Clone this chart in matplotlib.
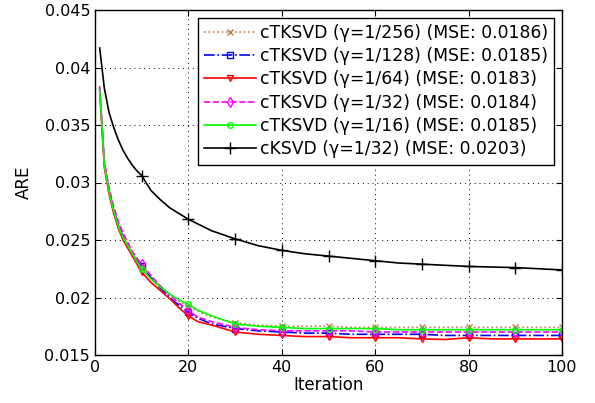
import matplotlib
matplotlib.use("Agg")
import matplotlib.pyplot as plt

plt.rcParams['font.family'] = ['DejaVu Sans']

it_low = [1, 2, 3, 4, 5, 6, 7, 8, 9, 10, 12, 14, 16, 18, 20, 22, 25, 30, 35, 40,
          45, 50, 55, 60, 65, 70, 75, 80, 85, 90, 95, 100]
it_k = [1, 2, 3, 4, 5, 6, 7, 8, 9, 10, 12, 14, 16, 18, 20, 25, 30, 35, 40, 45,
        50, 55, 60, 65, 70, 75, 80, 85, 90, 95, 100]

are_256 = [0.0384, 0.0318, 0.0294, 0.0277, 0.0264, 0.0254, 0.0246, 0.0239, 0.0233,
           0.0228, 0.0218, 0.0210, 0.0203, 0.0197, 0.0192, 0.0188, 0.0183, 0.0178,
           0.0176, 0.0175, 0.0175, 0.0175, 0.0174, 0.0174, 0.0174, 0.0174, 0.0174,
           0.0174, 0.0174, 0.0174, 0.0174, 0.0174]
are_128 = [0.0382, 0.0316, 0.0293, 0.0276, 0.0263, 0.0253, 0.0245, 0.0238, 0.0232,
           0.0227, 0.0217, 0.0208, 0.0200, 0.0193, 0.0187, 0.0182, 0.0177, 0.0173,
           0.0171, 0.0170, 0.0169, 0.0169, 0.0168, 0.0168, 0.0168, 0.0168, 0.0167,
           0.0167, 0.0167, 0.0167, 0.0167, 0.0167]
are_64 = [0.0380, 0.0313, 0.0290, 0.0273, 0.0260, 0.0250, 0.0243, 0.0236, 0.0229,
          0.0222, 0.0213, 0.0206, 0.0199, 0.0191, 0.0184, 0.0179, 0.0176, 0.0170,
          0.0168, 0.0167, 0.0166, 0.0166, 0.0165, 0.0165, 0.0165, 0.0164, 0.01635,
          0.0165, 0.0164, 0.0164, 0.0164, 0.0164]
are_32 = [0.0383, 0.0318, 0.0296, 0.0279, 0.0266, 0.0256, 0.0248, 0.0240, 0.0234,
          0.0229, 0.0219, 0.0210, 0.0202, 0.0195, 0.0189, 0.0183, 0.0179, 0.0174,
          0.0172, 0.0171, 0.0171, 0.0171, 0.0171, 0.0170, 0.0170, 0.0170, 0.0170,
          0.0170, 0.0170, 0.0170, 0.0170, 0.0170]
are_16 = [0.0381, 0.0315, 0.0292, 0.0275, 0.0262, 0.0252, 0.0245, 0.0238, 0.0231,
          0.0225, 0.0216, 0.0209, 0.0203, 0.0198, 0.0194, 0.0189, 0.0184, 0.0177,
          0.0175, 0.0174, 0.0173, 0.0173, 0.0173, 0.0173, 0.0172, 0.0172, 0.0172,
          0.0172, 0.0172, 0.0172, 0.0172, 0.0172]
are_ksvd = [0.0417, 0.0382, 0.0361, 0.0348, 0.0337, 0.0328, 0.0321, 0.0315, 0.0310,
            0.0306, 0.0293, 0.0285, 0.0278, 0.0273, 0.0268, 0.0258, 0.0251, 0.0245,
            0.0241, 0.0238, 0.0236, 0.0234, 0.0232, 0.0230, 0.0229, 0.0228, 0.0227,
            0.02265, 0.0226, 0.0225, 0.0224]

labels = ['cTKSVD (\u03b3=1/256) (MSE: 0.0186)',
          'cTKSVD (\u03b3=1/128) (MSE: 0.0185)',
          'cTKSVD (\u03b3=1/64) (MSE: 0.0183)',
          'cTKSVD (\u03b3=1/32) (MSE: 0.0184)',
          'cTKSVD (\u03b3=1/16) (MSE: 0.0185)',
          'cKSVD (\u03b3=1/32) (MSE: 0.0203)']

low_marks = [i for i, v in enumerate(it_low) if v % 10 == 0]
k_marks = [i for i, v in enumerate(it_k) if v % 10 == 0]

fig = plt.figure(figsize=(5.95, 4.03), dpi=100)
ax = fig.add_axes([95/595, 1-355/403, (562-95)/595, (355-10)/403])

ax.plot(it_low, are_256, ':', color='#c87850', marker='x', ms=5, mew=1.0,
        markevery=low_marks, label=labels[0], lw=1.2)
ax.plot(it_low, are_128, '-.', color='#0000ff', marker='s', ms=4.5, mfc='none',
        markevery=low_marks, label=labels[1], lw=1.2)
ax.plot(it_low, are_64, '-', color='#ff0000', marker='v', ms=5, mfc='none',
        markevery=low_marks, label=labels[2], lw=1.2)
ax.plot(it_low, are_32, '--', color='#ff00ff', marker='d', ms=5, mfc='none',
        markevery=low_marks, label=labels[3], lw=1.2)
ax.plot(it_low, are_16, '-', color='#00ff00', marker='o', ms=4, mfc='none',
        markevery=low_marks, label=labels[4], lw=1.2)
ax.plot(it_k, are_ksvd, '-', color='black', marker='+', ms=9, mew=1.0,
        markevery=k_marks, label=labels[5], lw=1.2)

ax.set_xlim(0, 100)
ax.set_ylim(0.015, 0.045)
ax.set_xticks([0, 20, 40, 60, 80, 100])
ax.set_yticks([0.015, 0.02, 0.025, 0.03, 0.035, 0.04, 0.045])
ax.set_yticklabels(['0.015', '0.02', '0.025', '0.03', '0.035', '0.04', '0.045'])
ax.tick_params(direction='in', top=True, right=True, labelsize=11.5, length=4)
ax.grid(True, linestyle=(0, (1, 4)), color='black', lw=0.7)
for s in ax.spines.values():
    s.set_linewidth(1.0)

ax.set_xlabel('Iteration', fontsize=12, labelpad=1)
ax.set_ylabel('ARE', fontsize=12, labelpad=8)

leg = ax.legend(loc='upper right', fontsize=12.4, fancybox=False, framealpha=1,
                edgecolor='black', borderpad=0.35, labelspacing=0.31,
                handlelength=3.0, handletextpad=0.25, borderaxespad=0.45)
leg.get_frame().set_linewidth(1.0)

plt.savefig('out.png', dpi=100)
